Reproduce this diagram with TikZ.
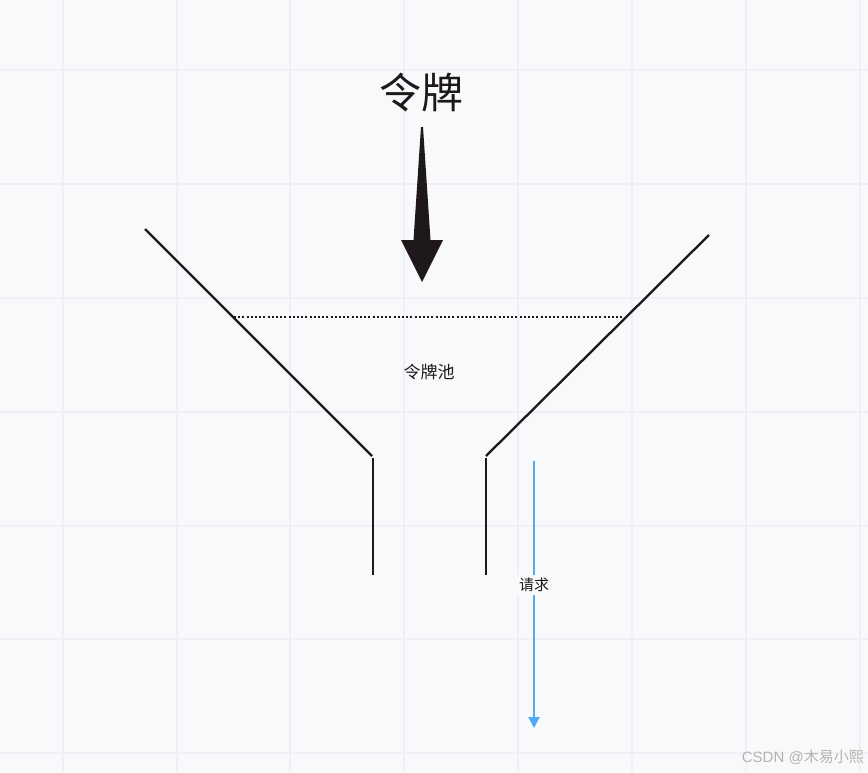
\documentclass[tikz,border=0pt]{standalone}
\usepackage{fontspec}
\setmainfont{Noto Sans CJK SC}
\newfontfamily\wmfont{Liberation Sans}
\usetikzlibrary{arrows.meta}
\definecolor{canvas}{HTML}{F8F9FB}
\definecolor{gridc}{HTML}{EFF0F3}
\definecolor{ink}{HTML}{1E181C}
\definecolor{reqblue}{HTML}{52AAF5}
\definecolor{wm}{HTML}{B4B4B4}
\tikzset{
  funnel/.style={draw=ink, line width=2.3pt},
  poolline/.style={draw=ink, line width=1.7pt, dash pattern=on 2pt off 2.2pt},
  bigarrow/.style={fill=ink, draw=none},
  reqarrow/.style={draw=reqblue, line width=2pt, -{Triangle[width=11pt,length=11pt]}},
  lbl/.style={inner sep=1pt, text=ink},
}
\begin{document}
\begin{tikzpicture}[x=1pt,y=-1pt]
\useasboundingbox (0,0) rectangle (868,772);
\fill[canvas] (0,0) rectangle (868,772);
% grid
\foreach \gx in {63,177,290,404,518,632,746,860}
  \draw[gridc, line width=1.1pt] (\gx,0) -- (\gx,772);
\foreach \gy in {70,184,298,412,526,639,753}
  \draw[gridc, line width=1.1pt] (0,\gy) -- (868,\gy);

% funnel coordinates
\coordinate (lt) at (145,229);
\coordinate (lj) at (372,456);
\coordinate (lv) at (373,458);
\coordinate (lb) at (373,575);
\coordinate (rt) at (709,235);
\coordinate (rj) at (486,456);
\coordinate (rv) at (486,458);
\coordinate (rb) at (486,575);
\draw[funnel] (lt) -- (lj);
\draw[funnel] (lv) -- (lb);
\draw[funnel] (rt) -- (rj);
\draw[funnel] (rv) -- (rb);

% pool level
\coordinate (pl) at (234,317);
\coordinate (pr) at (624,317);
\draw[poolline] (pl) -- (pr);

% big token arrow
\node[lbl, font=\fontsize{42}{44}\selectfont] (token) at (421,93) {令牌};
\fill[bigarrow] (421,127) -- (423,127) -- (430.5,240) -- (443,240) -- (422,282)
  -- (401,240) -- (413.5,240) -- cycle;

% pool label
\node[lbl, font=\fontsize{17}{19}\selectfont] (pool) at (429,372) {令牌池};

% request arrow
\coordinate (rs) at (534,461);
\coordinate (re) at (534,728);
\draw[reqarrow] (rs) -- (re);
\node[lbl, fill=canvas, inner sep=3pt, font=\fontsize{15}{17}\selectfont] (req) at (534,585) {请求};

% watermark
\node[anchor=east, text=wm, inner sep=0pt, font=\fontsize{15}{17}\selectfont] (wmk) at (864,757) {{\wmfont CSDN @}木易小熙};
\end{tikzpicture}
\end{document}
